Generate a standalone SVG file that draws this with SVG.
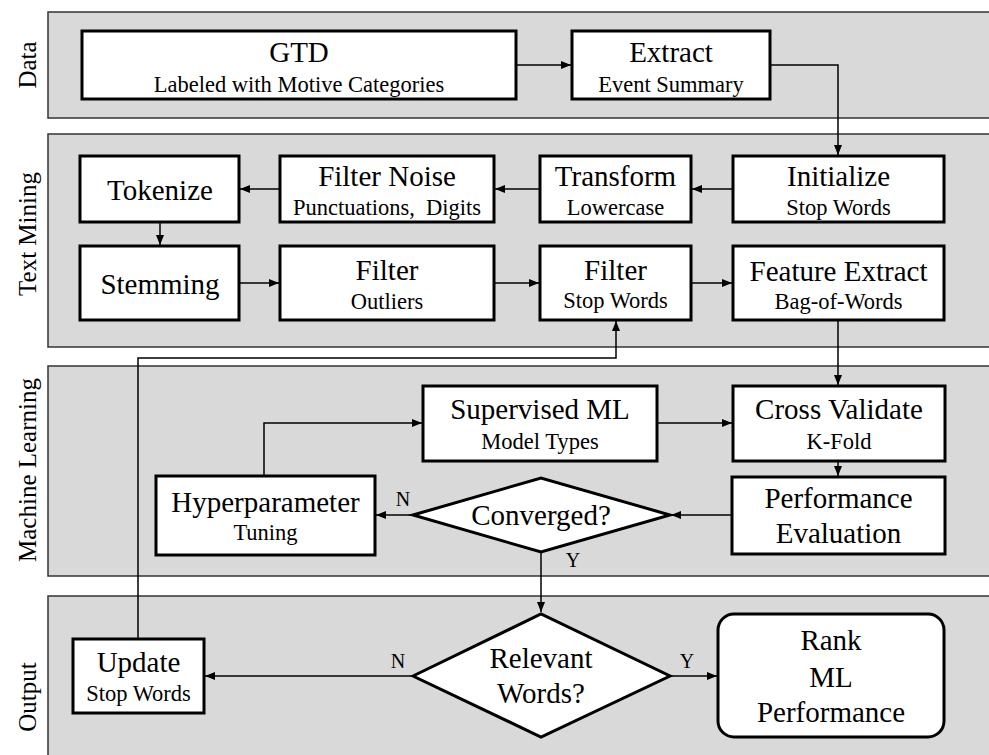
<svg xmlns="http://www.w3.org/2000/svg" width="989" height="755" viewBox="0 0 989 755">
<style>
.lane{fill:#d9d9d9;stroke:#333;stroke-width:1.5}
.box{fill:#fff;stroke:#000;stroke-width:3}
text{font-family:'Liberation Serif','Times New Roman',Times,'DejaVu Serif',serif;text-anchor:middle;fill:#000}
.m{font-size:29px}
.s{font-size:22.5px}
.l{font-size:20px}
.ln{font-size:25px}
.c{fill:none;stroke:#000;stroke-width:1.5}
</style>
<defs>
<marker id="ah" markerUnits="userSpaceOnUse" markerWidth="10" markerHeight="10" viewBox="0 0 10 10" refX="10" refY="5" orient="auto">
<path d="M0,1 L10,5 L0,9 Z" fill="#000"/>
</marker>
</defs>
<g id="lanes">
<rect class="lane" x="48" y="12" width="960" height="106"/>
<rect class="lane" x="48" y="134" width="960" height="213"/>
<rect class="lane" x="48" y="366" width="960" height="210"/>
<rect class="lane" x="48" y="596" width="960" height="180"/>
<text class="ln" transform="translate(36,65) rotate(-90)">Data</text>
<text class="ln" transform="translate(36,234) rotate(-90)">Text Mining</text>
<text class="ln" transform="translate(36,470) rotate(-90)">Machine Learning</text>
<text class="ln" transform="translate(36,697) rotate(-90)">Output</text>
</g>
<g id="connectors">
<path class="c" d="M516,65 H571" marker-end="url(#ah)"/>
<path class="c" d="M770,65 H838 V155" marker-end="url(#ah)"/>
<path class="c" d="M733,189 H692" marker-end="url(#ah)"/>
<path class="c" d="M540,189 H495" marker-end="url(#ah)"/>
<path class="c" d="M280,189 H240" marker-end="url(#ah)"/>
<path class="c" d="M160,222 V245" marker-end="url(#ah)"/>
<path class="c" d="M239,283 H279" marker-end="url(#ah)"/>
<path class="c" d="M494,283 H539" marker-end="url(#ah)"/>
<path class="c" d="M691,283 H732" marker-end="url(#ah)"/>
<path class="c" d="M838,320 V385" marker-end="url(#ah)"/>
<path class="c" d="M657,423 H732" marker-end="url(#ah)"/>
<path class="c" d="M838,461 V476" marker-end="url(#ah)"/>
<path class="c" d="M732,515 H671" marker-end="url(#ah)"/>
<path class="c" d="M413,515 H376" marker-end="url(#ah)"/>
<path class="c" d="M264,476 V423 H422" marker-end="url(#ah)"/>
<path class="c" d="M541,552 V612" marker-end="url(#ah)"/>
<path class="c" d="M670,676 H717" marker-end="url(#ah)"/>
<path class="c" d="M413,676 H205" marker-end="url(#ah)"/>
<path class="c" d="M138,639 V358 H616 V321" marker-end="url(#ah)"/>
<text class="l" x="403" y="506">N</text>
<text class="l" x="573" y="567">Y</text>
<text class="l" x="398" y="668">N</text>
<text class="l" x="687" y="668">Y</text>
</g>
<g id="gtd"><rect class="box" x="82" y="31" width="434" height="68"/><text class="m" x="299" y="62">GTD</text><text class="s" x="299" y="92">Labeled with Motive Categories</text></g>
<g id="extract"><rect class="box" x="572" y="31" width="198" height="68"/><text class="m" x="671" y="62">Extract</text><text class="s" x="671" y="92">Event Summary</text></g>
<g id="tokenize"><rect class="box" x="80" y="156" width="159" height="66"/><text class="m" x="160" y="200">Tokenize</text></g>
<g id="filter-noise"><rect class="box" x="280" y="156" width="214" height="66"/><text class="m" x="387" y="186">Filter Noise</text><text class="s" x="387" y="215" xml:space="preserve">Punctuations,  Digits</text></g>
<g id="transform"><rect class="box" x="540" y="156" width="151" height="66"/><text class="m" x="615.5" y="186">Transform</text><text class="s" x="615.5" y="215">Lowercase</text></g>
<g id="initialize"><rect class="box" x="733" y="156" width="211" height="66"/><text class="m" x="838.5" y="186">Initialize</text><text class="s" x="838.5" y="215">Stop Words</text></g>
<g id="stemming"><rect class="box" x="80" y="246" width="159" height="74"/><text class="m" x="160" y="294">Stemming</text></g>
<g id="filter-outliers"><rect class="box" x="280" y="246" width="214" height="74"/><text class="m" x="387" y="280">Filter</text><text class="s" x="387" y="309">Outliers</text></g>
<g id="filter-stop"><rect class="box" x="540" y="246" width="151" height="74"/><text class="m" x="615.5" y="280">Filter</text><text class="s" x="615.5" y="308">Stop Words</text></g>
<g id="feature-extract"><rect class="box" x="733" y="246" width="211" height="74"/><text class="m" x="838.5" y="281">Feature Extract</text><text class="s" x="838.5" y="309">Bag-of-Words</text></g>
<g id="supervised"><rect class="box" x="423" y="386" width="234" height="75"/><text class="m" x="540" y="419">Supervised ML</text><text class="s" x="540" y="449">Model Types</text></g>
<g id="cross-validate"><rect class="box" x="733" y="386" width="212" height="75"/><text class="m" x="839" y="419">Cross Validate</text><text class="s" x="839" y="449">K-Fold</text></g>
<g id="performance"><rect class="box" x="732" y="477" width="213" height="77"/><text class="m" x="838.5" y="508">Performance</text><text class="m" x="838.5" y="543">Evaluation</text></g>
<g id="converged"><polygon class="box" points="413,515 541,478 670,515 541,552"/><text class="m" x="541" y="525">Converged?</text></g>
<g id="hyperparameter"><rect class="box" x="156" y="476" width="219" height="79"/><text class="m" x="265.5" y="512">Hyperparameter</text><text class="s" x="265.5" y="540">Tuning</text></g>
<g id="relevant"><polygon class="box" points="413,676 541,614 670,676 541,737"/><text class="m" x="541" y="668">Relevant</text><text class="m" x="541" y="703">Words?</text></g>
<g id="rank"><rect class="box" x="718" y="614" width="226" height="123" rx="16"/><text class="m" x="831" y="650">Rank</text><text class="m" x="831" y="687">ML</text><text class="m" x="831" y="722">Performance</text></g>
<g id="update"><rect class="box" x="73" y="639" width="131" height="74"/><text class="m" x="138.5" y="672">Update</text><text class="s" x="138.5" y="701">Stop Words</text></g>
</svg>
